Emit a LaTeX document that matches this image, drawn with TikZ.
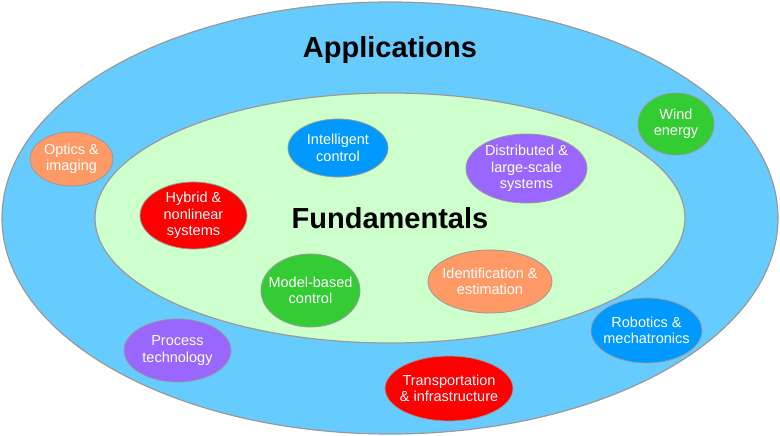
\documentclass[tikz,border=0pt]{standalone}
\usepackage{fontspec}
\setmainfont{Liberation Sans}
\usetikzlibrary{shapes.geometric}

\definecolor{appblue}{HTML}{66CCFF}
\definecolor{fundgreen}{HTML}{CCFFCC}
\definecolor{rimgray}{HTML}{999999}
\definecolor{topicorange}{HTML}{FF9966}
\definecolor{topicblue}{HTML}{0099FF}
\definecolor{topicred}{HTML}{FF0000}
\definecolor{topicgreen}{HTML}{33CC33}
\definecolor{topicpurple}{HTML}{9966FF}

\tikzset{
  topic/.style={ellipse, draw=rimgray, line width=0.8pt, inner sep=0pt},
  topictext/.style={text=white, align=center, inner sep=0pt,
    font=\fontsize{14.5}{16.5}\selectfont},
  title/.style={font=\fontsize{29}{34}\selectfont\bfseries}
}

\begin{document}
\begin{tikzpicture}[x=1pt,y=-1pt]

% ---------- frame (pixel grid of the source, y downwards) ----------
\useasboundingbox (0,0) rectangle (780,436);

% ---------- the two rings ----------
\draw[fill=appblue, draw=rimgray, line width=1.2pt] (390,218) ellipse [x radius=388, y radius=216];
\draw[fill=fundgreen, draw=rimgray, line width=1.2pt] (390,218) ellipse [x radius=295, y radius=125];

% ---------- titles ----------
\node[title] (apps) at (390,50.5) {Applications};
\node[title] (fund) at (390,218.5) {Fundamentals};

% ---------- fundamentals ----------
\node[topic, fill=topicblue, minimum width=100, minimum height=58,
  label={[topictext]center:Intelligent\\control}] (intel) at (338,148) {};
\node[topic, fill=topicred, minimum width=107, minimum height=67,
  label={[topictext]center:Hybrid \&\\nonlinear\\systems}] (hybrid) at (193.5,215.5) {};
\node[topic, fill=topicpurple, minimum width=121, minimum height=69,
  label={[topictext]center:Distributed \&\\large-scale\\systems}] (distrib) at (526.5,168.5) {};
\node[topic, fill=topicgreen, minimum width=99, minimum height=73,
  label={[topictext]center:Model-based\\control}] (model) at (310.5,290.5) {};
\node[topic, fill=topicorange, minimum width=124, minimum height=63,
  label={[topictext]center:Identification \&\\estimation}] (ident) at (490,281.5) {};

% ---------- applications ----------
\node[topic, fill=topicorange, minimum width=83, minimum height=54,
  label={[topictext]center:Optics \&\\imaging}] (optics) at (71.5,159) {};
\node[topic, fill=topicgreen, minimum width=76, minimum height=62,
  label={[topictext]center:Wind\\energy}] (wind) at (676,124) {};
\node[topic, fill=topicpurple, minimum width=107, minimum height=63,
  label={[topictext]center:Process\\technology}] (process) at (177.5,350.5) {};
\node[topic, fill=topicblue, minimum width=111, minimum height=65,
  label={[topictext]center:Robotics \&\\mechatronics}] (robot) at (646.5,330.5) {};
\node[topic, fill=topicred, minimum width=128, minimum height=65,
  label={[topictext]center:Transportation\\\& infrastructure}] (transp) at (449,388.5) {};

\end{tikzpicture}
\end{document}
